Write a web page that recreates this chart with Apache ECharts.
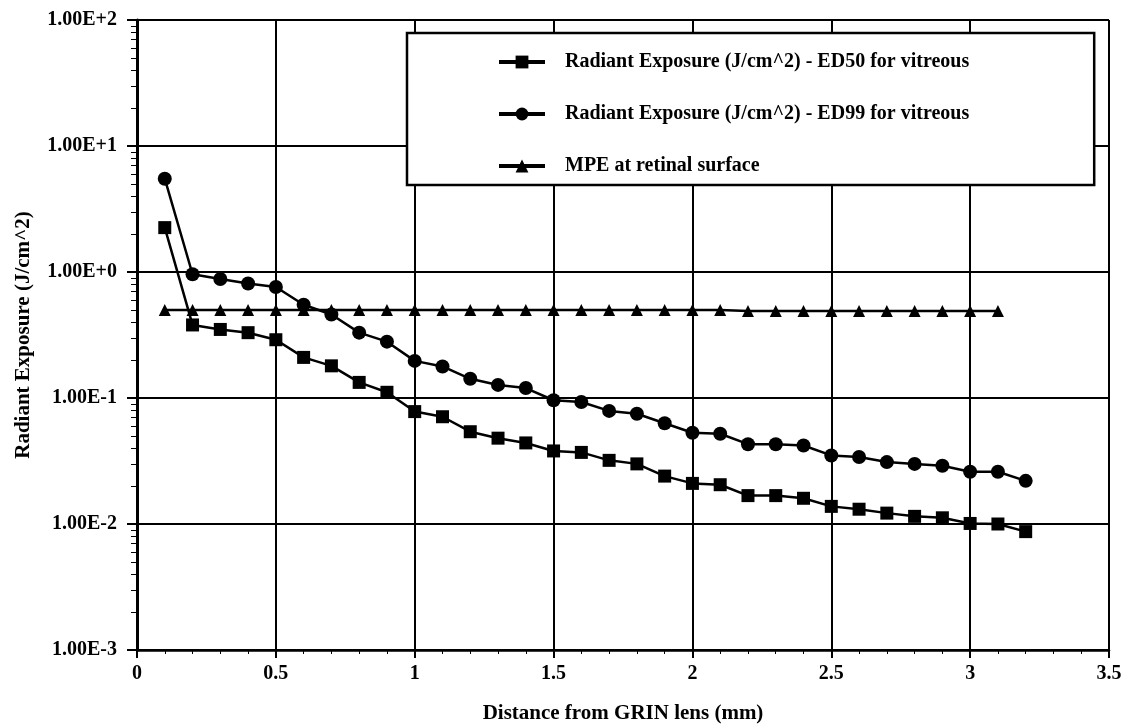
<!DOCTYPE html>
<html>
<head>
<meta charset="utf-8">
<script src="https://cdn.jsdelivr.net/npm/echarts@6/dist/echarts.min.js"></script>
<style>
    html, body {margin: 0; padding: 0; background: #fff;}
    #chart {width: 1135px; height: 728px;}
</style>
</head>
<body>
<div id="chart"></div>
<script>
    // distance from GRIN lens (mm)
    var distance = [0.1, 0.2, 0.3, 0.4, 0.5, 0.6, 0.7, 0.8, 0.9, 1.0, 1.1, 1.2, 1.3, 1.4, 1.5, 1.6,
        1.7, 1.8, 1.9, 2.0, 2.1, 2.2, 2.3, 2.4, 2.5, 2.6, 2.7, 2.8, 2.9, 3.0, 3.1, 3.2];

    var ed50 = [2.25, 0.38, 0.35, 0.33, 0.29, 0.21, 0.18, 0.133, 0.111, 0.078, 0.071, 0.054, 0.048, 0.044,
        0.038, 0.037, 0.032, 0.030, 0.024, 0.021, 0.0205, 0.0168, 0.0168, 0.016, 0.0138, 0.0131, 0.0122,
        0.0115, 0.0112, 0.0101, 0.0100, 0.0087];

    var ed99 = [5.5, 0.96, 0.88, 0.81, 0.76, 0.55, 0.46, 0.33, 0.28, 0.197, 0.178, 0.142, 0.127, 0.12,
        0.096, 0.093, 0.079, 0.075, 0.063, 0.053, 0.052, 0.043, 0.043, 0.042, 0.035, 0.034, 0.031,
        0.030, 0.029, 0.026, 0.026, 0.022];

    var mpe = [0.5, 0.5, 0.5, 0.5, 0.5, 0.5, 0.5, 0.5, 0.5, 0.5, 0.5, 0.5, 0.5, 0.5, 0.5, 0.5,
        0.5, 0.5, 0.5, 0.5, 0.5, 0.49, 0.49, 0.49, 0.49, 0.49, 0.49, 0.49, 0.49, 0.49, 0.49];

    var seriesNames = [
        'Radiant Exposure (J/cm^2) - ED50 for vitreous',
        'Radiant Exposure (J/cm^2) - ED99 for vitreous',
        'MPE at retinal surface'
    ];

    var font = 'Liberation Serif, Times New Roman, serif';

    function pairs(ys) {
        return ys.map(function (y, i) {
            return [distance[i], y];
        });
    }

    function lineSeries(name, ys, symbol, size) {
        return {
            name: name,
            type: 'line',
            data: pairs(ys),
            symbol: symbol,
            symbolSize: size,
            showAllSymbol: true,
            lineStyle: {color: '#000', width: 2.5},
            itemStyle: {color: '#000'},
            z: 5
        };
    }

    var chart = echarts.init(document.getElementById('chart'));

    chart.setOption({
        animation: false,
        backgroundColor: '#fff',
        textStyle: {fontFamily: font, color: '#000'},
        grid: {left: 137, right: 26, top: 20, bottom: 78, outerBoundsMode: 'none', containLabel: false},
        legend: {
            orient: 'vertical',
            left: 407,
            top: 33,
            padding: [19, 125, 9, 90],
            itemGap: 32,
            itemWidth: 46,
            itemHeight: 16,
            backgroundColor: '#fff',
            borderColor: '#000',
            borderWidth: 2.5,
            lineStyle: {width: 4},
            textStyle: {
                fontFamily: font, fontSize: 20, fontWeight: 'bold', color: '#000',
                lineHeight: 20, padding: [0, 0, 0, 15]
            },
            data: seriesNames
        },
        xAxis: {
            type: 'value',
            min: 0,
            max: 3.5,
            interval: 0.5,
            name: 'Distance from GRIN lens (mm)',
            nameLocation: 'middle',
            nameGap: 53,
            nameTextStyle: {fontFamily: font, fontSize: 21, fontWeight: 'bold', color: '#000'},
            axisLine: {lineStyle: {color: '#000', width: 2.5}},
            axisTick: {length: 8, lineStyle: {color: '#000', width: 2}},
            minorTick: {show: true, splitNumber: 5, length: 4, lineStyle: {color: '#000', width: 1}},
            axisLabel: {fontFamily: font, fontSize: 20, fontWeight: 'bold', color: '#000', margin: 14},
            splitLine: {show: true, lineStyle: {color: '#000', width: 2}}
        },
        yAxis: {
            type: 'log',
            logBase: 10,
            min: 0.001,
            max: 100,
            name: 'Radiant Exposure (J/cm^2)',
            nameLocation: 'middle',
            nameGap: 103,
            nameTextStyle: {fontFamily: font, fontSize: 21, fontWeight: 'bold', color: '#000'},
            axisLine: {lineStyle: {color: '#000', width: 3}},
            axisTick: {length: 10, lineStyle: {color: '#000', width: 2}},
            minorTick: {show: true, splitNumber: 9, length: 6, lineStyle: {color: '#000', width: 1}},
            axisLabel: {
                fontFamily: font,
                fontSize: 20,
                fontWeight: 'bold',
                color: '#000',
                margin: 20,
                formatter: function (v) {
                    return v.toExponential(2).toUpperCase();
                }
            },
            splitLine: {show: true, lineStyle: {color: '#000', width: 2}}
        },
        series: [
            lineSeries(seriesNames[0], ed50, 'rect', 13),
            lineSeries(seriesNames[1], ed99, 'circle', 14),
            lineSeries(seriesNames[2], mpe, 'triangle', 12)
        ]
    });
</script>
</body>
</html>
